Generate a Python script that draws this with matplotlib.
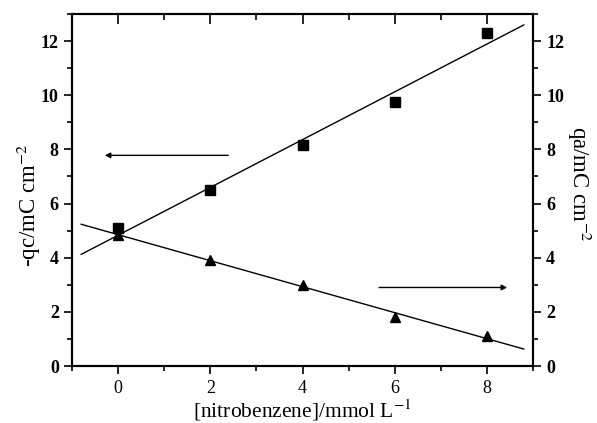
import matplotlib.pyplot as plt
from matplotlib.ticker import MultipleLocator
import numpy as np

plt.rcParams['font.family'] = ['Liberation Serif', 'DejaVu Serif']
plt.rcParams['mathtext.fontset'] = 'stix'

# [nitrobenzene] / mmol L-1
conc = np.array([0, 2, 4, 6, 8])
qc = np.array([5.1, 6.5, 8.15, 9.75, 12.3])   # -qc, left axis (squares)
qa = np.array([4.85, 3.9, 3.0, 1.8, 1.1])     # qa, right axis (triangles)

fig = plt.figure(figsize=(5.97, 4.23), dpi=100)
ax = fig.add_axes([72 / 597, 1 - 366 / 423, (533 - 72) / 597, (366 - 14) / 423])
ax2 = ax.twinx()

# linear fits
xf = np.array([-0.8, 8.8])
p1 = np.polyfit(conc, qc, 1)
p2 = np.polyfit(conc, qa, 1)
ax.plot(xf, np.polyval(p1, xf), c='black', lw=1)
ax.plot(conc, qc, 's', c='black', ms=7)
ax2.plot(xf, np.polyval(p2, xf), c='black', lw=1)
ax2.plot(conc, qa, '^', c='black', ms=7.5)

ax.set_xlim(-1, 9)
ax.set_ylim(0, 13)
ax2.set_ylim(0, 13)

# arrows pointing to each axis
ax.annotate('', xy=(-0.35, 7.78), xytext=(2.45, 7.78),
            arrowprops=dict(arrowstyle='-|>', color='black', lw=1,
                            mutation_scale=8))
ax.annotate('', xy=(8.5, 2.9), xytext=(5.6, 2.9),
            arrowprops=dict(arrowstyle='-|>', color='black', lw=1,
                            mutation_scale=8))

for a in (ax, ax2):
    a.xaxis.set_major_locator(MultipleLocator(2))
    a.xaxis.set_minor_locator(MultipleLocator(1))
    a.yaxis.set_major_locator(MultipleLocator(2))
    a.yaxis.set_minor_locator(MultipleLocator(1))
    for s in a.spines.values():
        s.set_linewidth(1.5)

# bottom / left ticks point outward
ax.tick_params(axis='both', which='major', direction='out', length=6, width=1.2,
               top=False, labelsize=13)
ax.tick_params(axis='both', which='minor', direction='out', length=3.5, width=1.2,
               top=False)
ax.tick_params(axis='x', which='major', pad=4)

# top ticks point inward (drawn by the twin's x axis)
ax2.xaxis.set_visible(True)
ax2.tick_params(axis='x', which='major', direction='in', length=7, width=1.2,
                top=True, bottom=False, labeltop=False, labelbottom=False)
ax2.tick_params(axis='x', which='minor', direction='in', length=4, width=1.2,
                top=True, bottom=False)
ax2.tick_params(axis='y', which='major', direction='out', length=6, width=1.2,
                labelsize=13)
ax2.tick_params(axis='y', which='minor', direction='out', length=3.5, width=1.2)

for lbl in ax.get_yticklabels() + ax2.get_yticklabels():
    lbl.set_fontweight('bold')

ax.set_xlabel(r'[nitrobenzene]/mmol L$^{-1}$', fontsize=15.5)
ax.xaxis.set_label_coords(0.5, -0.09)
ax.set_ylabel(r'-qc/mC cm$^{-2}$', fontsize=16.5)
ax.yaxis.set_label_coords(-0.062, 0.457)
ax2.set_ylabel(r'qa/mC cm$^{-2}$', fontsize=16.5, rotation=270, va='bottom')
ax2.yaxis.set_label_coords(1.07, 0.517)

fig.savefig('out.png', dpi=100)
